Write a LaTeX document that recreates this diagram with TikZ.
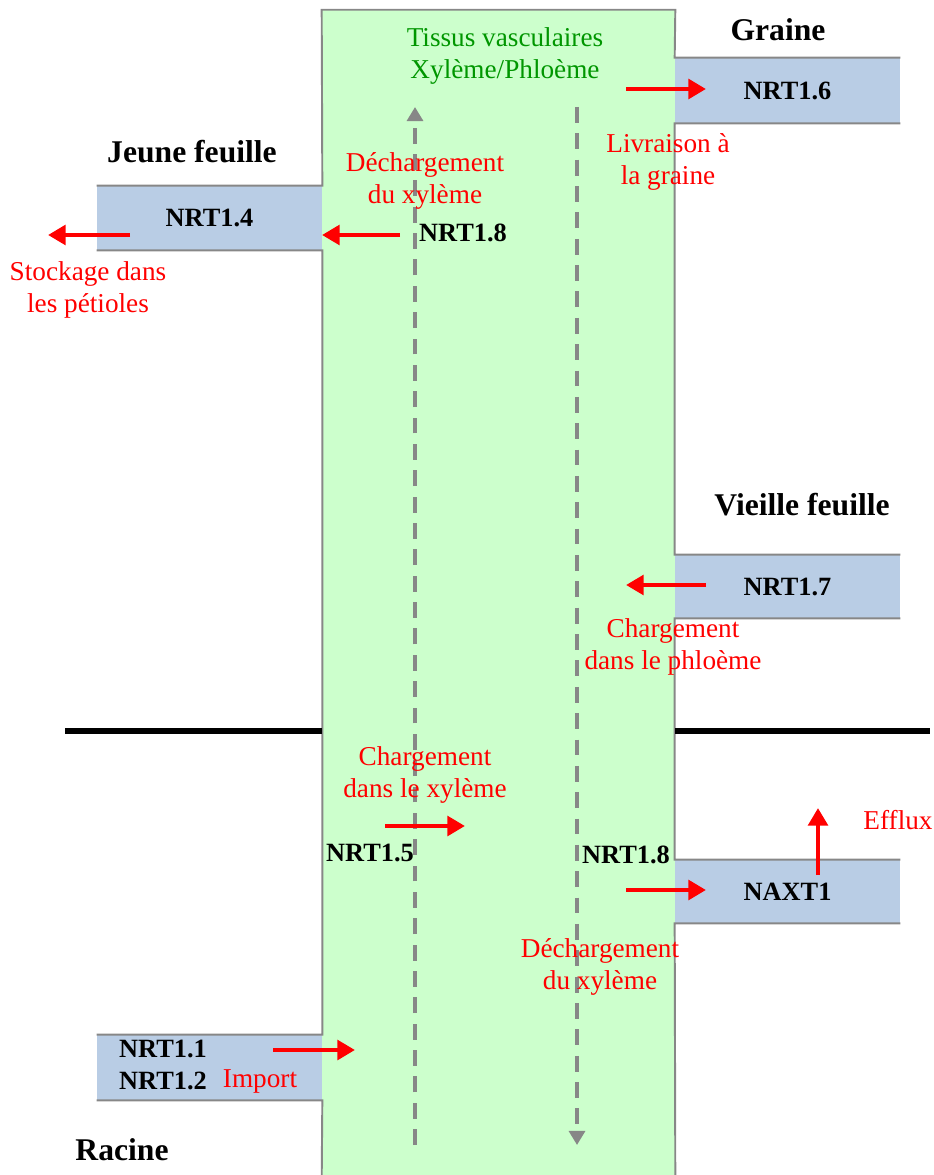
\documentclass[tikz,border=0pt]{standalone}
\usepackage{fontspec}
\setmainfont{Liberation Serif}
\usetikzlibrary{arrows.meta}
\definecolor{vascgreen}{RGB}{204,255,204}
\definecolor{organblue}{RGB}{185,205,229}
\definecolor{titlegreen}{RGB}{0,150,0}
\definecolor{edgegray}{RGB}{135,135,135}
\tikzset{
  organ/.style={font=\fontsize{18}{20}\selectfont\bfseries},
  transp/.style={font=\fontsize{15}{18}\selectfont\bfseries},
  note/.style={text=red, font=\fontsize{15.5}{18}\selectfont, align=center},
  organbox/.style={fill=organblue, minimum width=4.5cm, minimum height=1.28cm, inner sep=0pt, transp},
  edge/.style={edgegray, line width=1.1pt},
  flux/.style={red, line width=2.8pt, -{Triangle[length=10pt,width=11pt]}},
  sap/.style={edgegray, line width=2pt, dash pattern=on 9pt off 6pt, -{Triangle[length=8pt,width=9pt]}},
}
\begin{document}
\begin{tikzpicture}[x=0.02cm, y=-0.02cm]
\useasboundingbox (0,0) rectangle (933,1175);
% tissus vasculaires
\node[fill=vascgreen, minimum width=7.06cm, minimum height=23.4cm, inner sep=0pt] (vasc) at (498.5,595) {};
% organes
\node[organbox] (n14) at (209.5,218) {NRT1.4};
\node[organbox, minimum height=1.3cm] (n16) at (787.5,90.5) {NRT1.6};
\node[organbox, minimum height=1.26cm] (n17) at (787.5,586.5) {NRT1.7};
\node[organbox, minimum height=1.26cm] (naxt) at (787.5,891.5) {NAXT1};
\node[organbox, minimum height=1.3cm] (n11) at (209.5,1067.5) {};
\draw[edge] (vasc.south west) -- (n11.south east) -- (n11.south west)
  (n11.north west) -- (n11.north east) -- (n14.south east) -- (n14.south west)
  (n14.north west) -- (n14.north east) -- (vasc.north west) -- (vasc.north east)
  -- (n16.north west) -- (n16.north east)
  (n16.south east) -- (n16.south west) -- (n17.north west) -- (n17.north east)
  (n17.south east) -- (n17.south west) -- (naxt.north west) -- (naxt.north east)
  (naxt.south east) -- (naxt.south west) -- (vasc.south east);
% sol
\coordinate (soilL) at (65,731);
\coordinate (soilR) at (930,731);
\draw[line width=3.4pt] (soilL) -- (soilL -| vasc.west);
\draw[line width=3.4pt] (soilR -| vasc.east) -- (soilR);
% xyleme / phloeme
\coordinate (xylB) at (415,1145);
\coordinate (xylT) at (415,107);
\coordinate (phlT) at (577,107);
\coordinate (phlB) at (577,1145);
\draw[sap] (xylB) -- (xylT);
\draw[sap] (phlT) -- (phlB);
% textes
\node[organ] (graine) at (778,30) {Graine};
\node[organ] (jeune) at (192,152) {Jeune feuille};
\node[organ] (vieille) at (802,505) {Vieille feuille};
\node[organ] (racine) at (122,1150) {Racine};
\node[note, text=titlegreen] (tissus) at (505,56) {Tissus vasculaires\\Xylème/Phloème};
\node[note] (dechT) at (425,181) {Déchargement\\du xylème};
\node[transp] (n18T) at (463,233) {NRT1.8};
\node[note] (livr) at (668,162) {Livraison à\\la graine};
\node[note] (stock) at (88,290) {Stockage dans\\les pétioles};
\node[note] (chphl) at (673,647) {Chargement\\dans le phloème};
\node[note] (chxyl) at (425,775) {Chargement\\dans le xylème};
\node[transp] (n15) at (370,853) {NRT1.5};
\node[transp] (n18B) at (626,855) {NRT1.8};
\node[note] (efflux) at (898,820) {Efflux};
\node[note] (dechB) at (600,967) {Déchargement\\du xylème};
\node[transp, align=left, anchor=west] (n112) at (113,1065) {NRT1.1\\NRT1.2};
\node[note] (import) at (260,1081) {Import};
% flux
\coordinate (stockA) at (130,235);  \coordinate (stockB) at (48,235);
\coordinate (dechA) at (400,235);   \coordinate (dechB) at (322,235);
\coordinate (livrA) at (626,89);    \coordinate (livrB) at (706,89);
\coordinate (phlA) at (706,585);    \coordinate (phlB2) at (626,585);
\coordinate (xylA) at (385,826);    \coordinate (xylB2) at (465,826);
\coordinate (naxtA) at (626,890);   \coordinate (naxtB) at (706,890);
\coordinate (effA) at (818,875);    \coordinate (effB) at (818,808);
\coordinate (impA) at (273,1050);   \coordinate (impB) at (355,1050);
\draw[flux] (stockA) -- (stockB);
\draw[flux] (dechA) -- (dechB);
\draw[flux] (livrA) -- (livrB);
\draw[flux] (phlA) -- (phlB2);
\draw[flux] (xylA) -- (xylB2);
\draw[flux] (naxtA) -- (naxtB);
\draw[flux] (effA) -- (effB);
\draw[flux] (impA) -- (impB);
\end{tikzpicture}
\end{document}
